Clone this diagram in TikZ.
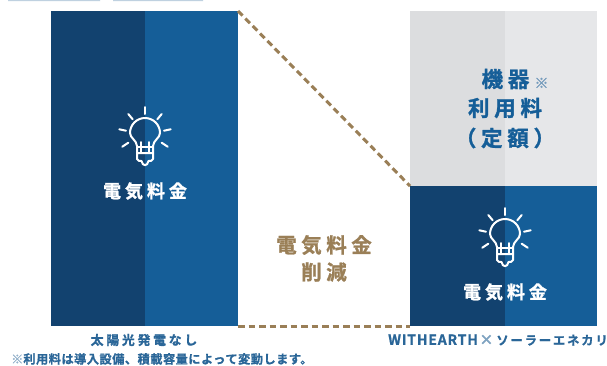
\documentclass[tikz,border=0pt]{standalone}
\usepackage{fontspec}
\newfontfamily\jpa[LetterSpace=22,FakeBold=1.2]{Noto Sans CJK JP Bold}
\newfontfamily\jpb[LetterSpace=6,FakeBold=1]{Noto Sans CJK JP Bold}
\newfontfamily\jpk[LetterSpace=15,FakeBold=1]{Noto Sans CJK JP Bold}
\newfontfamily\jpc[LetterSpace=4,FakeBold=1]{Noto Sans CJK JP Bold}
\definecolor{navy}{HTML}{12426F}
\definecolor{midblue}{HTML}{155E98}
\definecolor{gA}{HTML}{DCDDDF}
\definecolor{gB}{HTML}{E6E7E9}
\definecolor{gold}{HTML}{9A7F57}
\definecolor{capblue}{HTML}{2A6698}
\tikzset{
  x=1pt,y=-1pt,
  lbl/.style={inner sep=0pt,font=\jpa\fontsize{18}{18}\selectfont,text=white},
  goldtxt/.style={inner sep=0pt,font=\jpa\fontsize{20.5}{20.5}\selectfont,text=gold},
  headtxt/.style={inner sep=0pt,font=\jpa\fontsize{21.5}{21.5}\selectfont,text=midblue},
  captxt/.style={inner sep=0pt,font=\jpa\fontsize{12.8}{12.8}\selectfont,text=capblue},
  notetxt/.style={inner sep=0pt,font=\jpc\fontsize{12.2}{12.2}\selectfont,text=capblue,anchor=west},
  gapline/.style={draw=gold,line width=3pt,dash pattern=on 6.5pt off 4pt},
  lamp/.pic={
    \begin{scope}[draw=white,line width=2pt,line cap=round,line join=round]
      \draw (-8,20) -- (-8,13) .. controls (-8.5,7) and (-15,5) .. (-15,0)
        arc[start angle=180,end angle=360,radius=15]
        .. controls (15,5) and (8.5,7) .. (8,13) -- (8,20);
      \draw (-4.3,9) -- (-4.3,20) (4.3,9) -- (4.3,20) (-8,14) -- (8,14);
      \draw (-8,20) -- (8,20) -- (8,26) .. controls (8,28) and (5,28) .. (3.5,28)
        .. controls (2.5,33.5) and (-2.5,33.5) .. (-3.5,28) .. controls (-5,28) and (-8,28) .. (-8,26) -- cycle;
      \draw (0,-26) -- (0,-19);
      \draw (-16.7,-19) -- (-12.3,-13.7) (16.7,-19) -- (12.3,-13.7);
      \draw (-25.7,-3.7) -- (-19,-2.3) (25.7,-3.7) -- (19,-2.3);
      \draw (-22.7,13.7) -- (-16.7,9.7) (22.7,13.7) -- (16.7,9.7);
    \end{scope}}
}
\begin{document}
\begin{tikzpicture}
\useasboundingbox (0,0) rectangle (607,365);
\fill[white] (0,0) rectangle (607,365);
% clipped line of text at the top edge
\fill[capblue!30] (8,0) rectangle (100,1.2) (113,0) rectangle (203,1.2);
% columns
\fill[navy] (51,11) rectangle (145,326);
\fill[midblue] (145,11) rectangle (238,326);
\fill[gA] (410,11) rectangle (505,186);
\fill[gB] (505,11) rectangle (597,186);
\fill[navy] (410,186) rectangle (505,326);
\fill[midblue] (505,186) rectangle (597,326);
% anchors for connectors
\coordinate (lt) at (238,11);
\coordinate (lb) at (238,326);
\coordinate (rt) at (410,186);
\coordinate (rb) at (410,326);
\draw[gapline] (lt) -- (rt);
\draw[gapline] (lb) -- (rb);
% icons
\pic at (145,133) {lamp};
\pic at (505,234) {lamp};
% labels
\node[lbl] (a) at (145,191) {電気料金};
\node[lbl] (b) at (505,292) {電気料金};
\node[goldtxt] (c) at (324,245) {電気料金};
\node[goldtxt] (d) at (324,272) {削減};
\node[headtxt] (e) at (505.5,79) {機器};
\node[inner sep=0pt,text=capblue!65,font=\jpc\fontsize{14}{14}\selectfont] (e2) at (541.5,83) {※};
\node[headtxt] (f) at (505,108) {利用料};
\node[headtxt] (g) at (505,138) {（定額）};
\node[captxt] (h) at (144,340) {太陽光発電なし};
\node[captxt,anchor=west,font=\jpb\fontsize{14}{14}\selectfont] (i) at (388,340) {WITHEARTH{\color{capblue!60}\hspace{1.5pt}×}\hspace{3pt}{\jpk\fontsize{12.3}{12.3}\selectfont ソーラーエネカリ}};
\node[notetxt] (j) at (11,359) {{\color{capblue!50}※}利用料は導入設備、積載容量によって変動します。};
\end{tikzpicture}
\end{document}
